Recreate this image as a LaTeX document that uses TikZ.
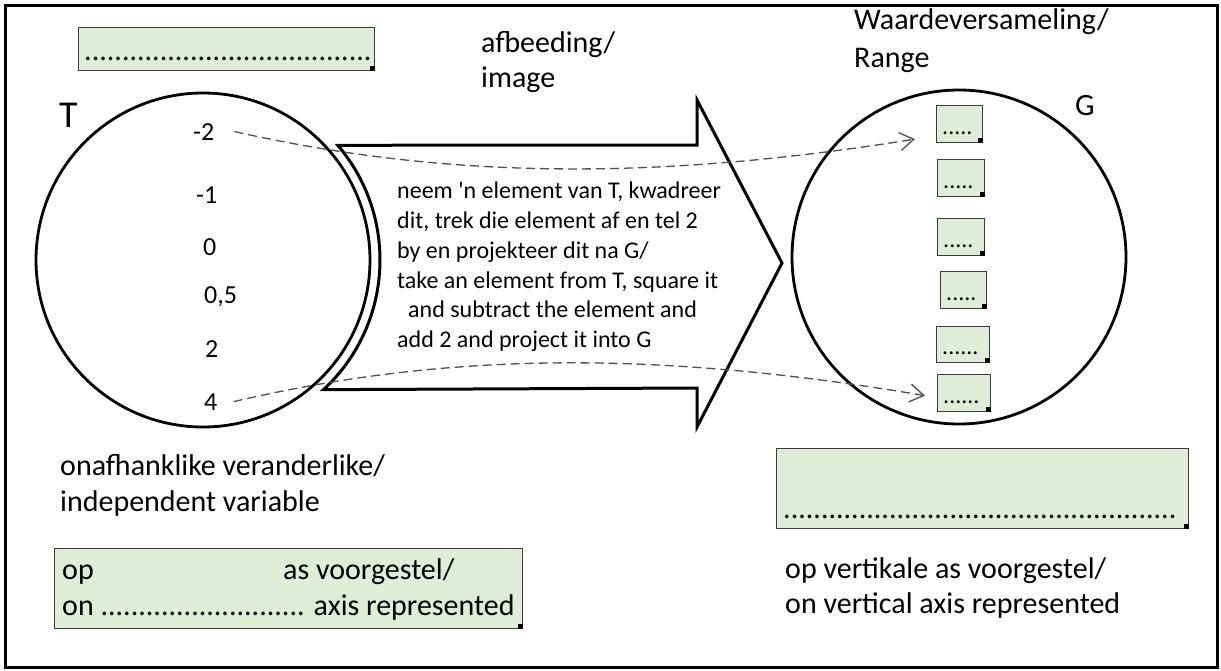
\documentclass[tikz,border=0pt]{standalone}
\usepackage{fontspec}
\setmainfont{Carlito}[Ligatures=TeXOff]
\usetikzlibrary{arrows.meta,calc}
\definecolor{gbox}{RGB}{223,236,214}
\definecolor{gedge}{RGB}{60,60,60}
\definecolor{dashc}{RGB}{80,80,80}
\newcommand\gcorner[1]{\fill (#1.south east) rectangle ++(-5,-5);}
\begin{document}
\begin{tikzpicture}[x=1pt,y=-1pt,
  txt/.style={anchor=base west, inner sep=0pt, font=\fontsize{30}{35}\selectfont},
  arrtxt/.style={anchor=base west, inner sep=0pt, font=\fontsize{24}{29}\selectfont},
  num/.style={anchor=base west, inner sep=0pt, font=\fontsize{26}{30}\selectfont},
  dots/.style={anchor=base west, inner sep=0pt, font=\fontsize{24}{28}\selectfont},
  gbx/.style={draw=gedge, fill=gbox, line width=1.2pt, anchor=north west, inner sep=0pt},
  setc/.style={circle, draw, line width=2.8pt, inner sep=0pt, minimum size=334pt},
  dashconn/.style={draw=dashc, line width=1.3pt, dash pattern=on 9pt off 5pt,
     -{Straight Barb[length=14pt,width=18pt,line width=1.3pt]}},
]
\useasboundingbox (0,0) rectangle (1221,670);
\draw[line width=3pt] (5,5) rectangle (1217,667);

% top-left box
\node[gbx, minimum width=296pt, minimum height=43pt] (topbox) at (78,27) {};
\gcorner{topbox}
\node[txt] (topdots) at (84,60) {......................................};

% labels top
\node[txt] (afb1) at (481,52) {afbeeding/};
\node[txt] (afb2) at (481,87) {image};
\node[txt] (wv1) at (854,29) {Waardeversameling/};
\node[txt] (wv2) at (854,67) {Range};

% set T
\coordinate (Tc) at (203,260);
\node[setc] (T) at (Tc) {};
\node[anchor=base west, inner sep=0pt, font=\fontsize{38}{40}\selectfont] (Tlab) at (59,127) {T};
\node[num] (m2) at (193,140) {-2};
\node[num] (m1) at (196,203) {-1};
\node[num] (z0) at (203,255) {0};
\node[num] (z5) at (204,303) {0,5};
\node[num] (p2) at (205,357) {2};
\node[num] (p4) at (204,410) {4};

% set G
\node[setc] (G) at (959,257) {};
\node[anchor=base west, inner sep=0pt, font=\fontsize{31}{34}\selectfont] (Glab) at (1075,115) {G};
\node[gbx, minimum width=46pt, minimum height=37pt] (g1) at (936,105) {};
\node[gbx, minimum width=47pt, minimum height=37pt] (g2) at (937,159) {};
\node[gbx, minimum width=47pt, minimum height=37pt] (g3) at (937,218) {};
\node[gbx, minimum width=46pt, minimum height=37pt] (g4) at (940,271) {};
\node[gbx, minimum width=53pt, minimum height=36pt] (g5) at (936,326) {};
\node[gbx, minimum width=53pt, minimum height=37pt] (g6) at (937,374) {};
\gcorner{g1}\gcorner{g2}\gcorner{g3}\gcorner{g4}\gcorner{g5}\gcorner{g6}
\node[dots] (g1d) at ($(g1.south west)+(6,-9)$) {.....};
\node[dots] (g2d) at ($(g2.south west)+(6,-9)$) {.....};
\node[dots] (g3d) at ($(g3.south west)+(6,-9)$) {.....};
\node[dots] (g4d) at ($(g4.south west)+(6,-9)$) {.....};
\node[dots] (g5d) at ($(g5.south west)+(6,-9)$) {......};
\node[dots] (g6d) at ($(g6.south west)+(6,-9)$) {......};

% big arrow
\draw[line width=3pt, line join=miter, fill=white]
  ($(Tc)+(-47.1:177pt)$) arc[start angle=-47.1, end angle=40.4, radius=177pt]
  -- (697,145) -- (697,100) -- (782,263) -- (697,427) -- (697,388) -- cycle;
\node[arrtxt] (a1) at (397,198) {neem 'n element van T, kwadreer};
\node[arrtxt] (a2) at (397,228) {dit, trek die element af en tel 2};
\node[arrtxt] (a3) at (397,258) {by en projekteer dit na G/};
\node[arrtxt] (a4) at (397,288) {take an element from T, square it};
\node[arrtxt] (a5) at (408,317) {and subtract the element and};
\node[arrtxt] (a6) at (397,347) {add 2 and project it into G};

% dashed mappings
\draw[dashconn] ([xshift=20pt]m2.east) .. controls (450,180) and (660,180) .. ([xshift=-21pt,yshift=-15pt]g1.west);
\draw[dashconn] ([xshift=16pt]p4.east) .. controls (450,351) and (660,351) .. ([xshift=-12pt,yshift=-2.5pt]g6.west);

% bottom left
\node[txt] (ind1) at (60,475) {onafhanklike veranderlike/};
\node[txt] (ind2) at (60,511) {independent variable};
\node[gbx, minimum width=468pt, minimum height=80pt] (blbox) at (54,548) {};
\gcorner{blbox}
\node[txt] (bl1) at (62,579) {op};
\node[txt] (bl2) at (283,579) {as voorgestel/};
\node[txt] (bl3) at (62,615) {on ........................... axis represented};

% bottom right
\node[gbx, minimum width=412pt, minimum height=80pt] (brbox) at (776,448) {};
\gcorner{brbox}
\node[txt] (brdots) at (783,518) {....................................................};
\node[txt] (br1) at (785,578) {op vertikale as voorgestel/};
\node[txt] (br2) at (785,613) {on vertical axis represented};
\end{tikzpicture}
\end{document}
